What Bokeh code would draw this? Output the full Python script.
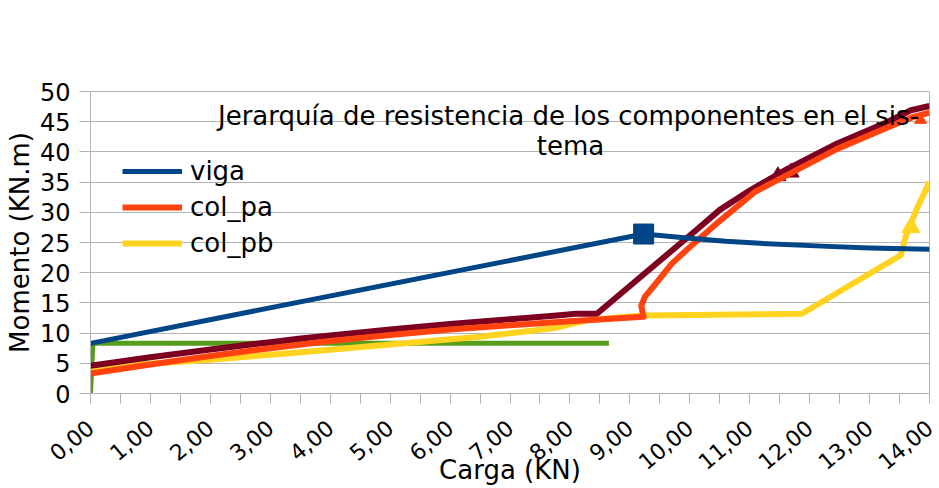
import math
from bokeh.plotting import figure
from bokeh.models import Range1d, FixedTicker, Label, Legend, LegendItem
from bokeh.embed import file_html
from bokeh.resources import INLINE

# ---------------- data ----------------
x_ticks = [0, 1, 2, 3, 4, 5, 6, 7, 8, 9, 10, 11, 12, 13, 14]
x_tick_labels = ["0,00", "1,00", "2,00", "3,00", "4,00", "5,00", "6,00", "7,00",
                 "8,00", "9,00", "10,00", "11,00", "12,00", "13,00", "14,00"]
y_ticks = [0, 5, 10, 15, 20, 25, 30, 35, 40, 45, 50]

viga_x = [0.0, 9.23, 10.0, 10.6, 11.1, 12.2, 13.0, 14.0]
viga_y = [8.3, 26.4, 25.7, 25.2, 24.9, 24.4, 24.1, 23.9]
viga_mark_x = [9.23]
viga_mark_y = [26.4]

col_pa_x = [0.0, 1.0, 2.0, 3.0, 4.0, 5.0, 6.0, 7.0, 8.0, 9.23, 9.19, 9.25, 9.4, 9.7,
            10.04, 10.43, 11.09, 11.63, 12.46, 13.29, 13.73, 14.0]
col_pa_y = [3.3, 4.8, 6.2, 7.5, 8.7, 9.7, 10.6, 11.3, 11.95, 12.7, 14.5, 16.0, 17.8, 21.5,
            24.6, 28.0, 33.4, 36.2, 40.5, 44.0, 45.8, 46.5]
col_pa_mark_x = [13.85]
col_pa_mark_y = [45.3]

col_pb_x = [0.0, 2.0, 3.47, 5.0, 6.5, 7.78, 8.27, 8.8, 9.23, 11.87, 13.52, 13.6, 13.78, 14.0]
col_pb_y = [4.3, 5.6, 6.8, 8.1, 9.4, 10.9, 12.1, 12.6, 12.9, 13.2, 22.9, 25.9, 30.4, 35.0]
col_pb_mark_x = [13.69]
col_pb_mark_y = [27.5]

sistema_x = [0.0, 1.0, 2.0, 3.0, 3.47, 4.0, 5.0, 6.0, 7.0, 7.78, 8.1, 8.45, 10.1, 10.5,
             11.0, 11.63, 12.46, 13.29, 13.69, 14.0]
sistema_y = [4.6, 6.0, 7.3, 8.5, 9.05, 9.6, 10.6, 11.5, 12.3, 12.9, 13.2, 13.2, 27.0, 30.4,
             33.6, 37.2, 41.4, 44.9, 46.9, 47.6]
sistema_mark_x = [11.47, 11.69]
sistema_mark_y = [36.0, 36.6]

fluencia_x = [0.0, 0.04, 8.65]
fluencia_y = [0.0, 8.3, 8.3]

# ---------------- styling ----------------
FONT = "DejaVu Sans"
GRID = "#b3b3b3"
C_VIGA = "#004586"
C_PA = "#ff420e"
C_PB = "#ffd320"
C_SIS = "#7e0021"
C_FL = "#579d1c"

p = figure(width=939, height=488, output_backend="svg", toolbar_location=None,
           x_range=Range1d(0, 14), y_range=Range1d(0, 50),
           min_border_left=90, min_border_right=10, min_border_top=91, min_border_bottom=94)
p.background_fill_color = "white"
p.border_fill_color = "white"
p.outline_line_color = GRID

# axes
p.xaxis.ticker = FixedTicker(ticks=x_ticks, minor_ticks=[t + 0.5 for t in x_ticks[:-1]])
p.xaxis.major_label_overrides = {t: lab for t, lab in zip(x_ticks, x_tick_labels)}
p.xaxis.major_label_orientation = math.radians(40)
p.xaxis.major_label_standoff = 21
p.xaxis.major_tick_out = 10
p.xaxis.major_tick_in = 0
p.xaxis.minor_tick_out = 10
p.xaxis.minor_tick_in = 0
p.xaxis.minor_tick_line_color = GRID
p.xaxis.axis_label = "Carga (KN)"
p.xaxis.axis_label_standoff = -25
p.yaxis.ticker = FixedTicker(ticks=y_ticks)
p.yaxis.major_tick_out = 11
p.yaxis.major_tick_in = 0
p.yaxis.minor_tick_line_color = None
p.yaxis.major_label_standoff = 9
p.yaxis.axis_label = "Momento (KN.m)"
p.yaxis.axis_label_standoff = 2
for ax in (p.xaxis, p.yaxis):
    ax.axis_line_color = GRID
    ax.major_tick_line_color = GRID
    ax.major_label_text_font = FONT
    ax.major_label_text_font_size = "22px"
    ax.major_label_text_color = "black"
    ax.axis_label_text_font = FONT
    ax.axis_label_text_font_size = "26px"
    ax.axis_label_text_font_style = "normal"
    ax.axis_label_text_color = "black"
p.yaxis.major_label_text_font_size = "24px"

p.xgrid.grid_line_color = None
p.ygrid.grid_line_color = GRID
p.ygrid.ticker = FixedTicker(ticks=y_ticks)

# lines
p.line(fluencia_x, fluencia_y, line_color=C_FL, line_width=5, line_join="round")
r_pb = p.line(col_pb_x, col_pb_y, line_color=C_PB, line_width=6, line_join="round")
p.scatter(col_pb_mark_x, col_pb_mark_y, marker="triangle", size=18, fill_color=C_PB, line_color=C_PB)
p.line(sistema_x, sistema_y, line_color=C_SIS, line_width=6, line_join="round")
p.scatter(sistema_mark_x, sistema_mark_y, marker="triangle", size=16, fill_color=C_SIS, line_color=C_SIS)
p.scatter(col_pa_mark_x, col_pa_mark_y, marker="triangle", size=12, fill_color=C_PA, line_color=C_PA)
r_pa = p.line(col_pa_x, col_pa_y, line_color=C_PA, line_width=6, line_join="round")
r_viga = p.line(viga_x, viga_y, line_color=C_VIGA, line_width=5, line_join="round")
p.scatter(viga_mark_x, viga_mark_y, marker="square", size=20, fill_color=C_VIGA, line_color=C_VIGA)

legend = Legend(items=[LegendItem(label="viga", renderers=[r_viga]),
                       LegendItem(label="col_pa", renderers=[r_pa]),
                       LegendItem(label="col_pb", renderers=[r_pb])],
                location=(32, 135), padding=0, margin=0, spacing=6,
                glyph_width=60, glyph_height=30, label_height=30, label_standoff=8,
                label_text_font=FONT, label_text_font_size="26px", label_text_color="black",
                background_fill_alpha=0, border_line_alpha=0)
p.add_layout(legend)

# in-plot title (two lines)
p.add_layout(Label(x=478, y=278, x_units="screen", y_units="screen",
                   text="Jerarquía de resistencia de los componentes en el sis-",
                   text_align="center", text_baseline="alphabetic",
                   text_font=FONT, text_font_size="26px", text_color="black"))
p.add_layout(Label(x=480, y=248, x_units="screen", y_units="screen", text="tema",
                   text_align="center", text_baseline="alphabetic",
                   text_font=FONT, text_font_size="26px", text_color="black"))

open("out.html", "w").write(file_html(p, INLINE))
